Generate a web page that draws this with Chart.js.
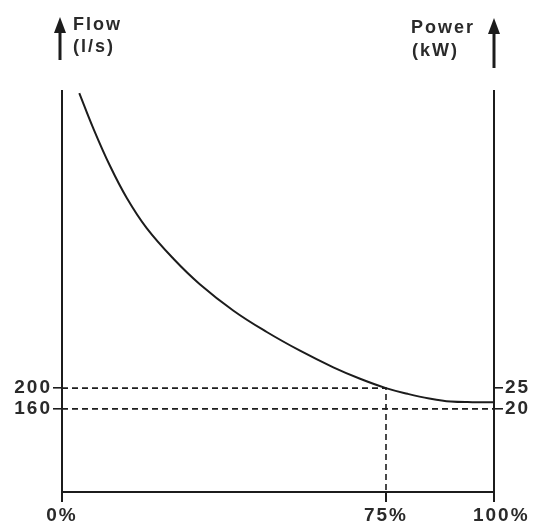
<!DOCTYPE html>
<html>
<head>
<meta charset="utf-8">
<script src="https://cdn.jsdelivr.net/npm/chart.js@4"></script>
<style>
  html, body { margin: 0; padding: 0; background: #fff; }
  #wrap { width: 537px; height: 523px; }
</style>
</head>
<body>
<div id="wrap"><canvas id="c" width="537" height="523"></canvas></div>
<script>
// Speed (% of full) and flow curve values (l/s)
const speedPct = [4.0, 7.2, 11.1, 15.0, 19.6, 25.8, 31.9, 39.7, 47.4, 55.1, 62.8, 69.0, 75.0, 80.0, 85.0, 90.0, 95.0, 100];
const flowCurve = [768, 701, 628, 566, 508, 449, 400, 349, 308, 272, 240, 218, 200, 189, 180, 174, 173, 173];

// Reference (operating point) values
const refSpeed = 75;
const refFlowHigh = 200;
const refFlowLow = 160;

// Axis tick labels
const xTicks = [0, 75, 100];
const flowTicks = [160, 200];
const powerTicks = [20, 25];

// Axis limits
const flowMax = 772;
const powerMax = flowMax / 8;

const FONT = "'Liberation Sans', Arial, sans-serif";
const INK = '#1c1c1c';
const TXT = '#2a2a2a';

const curve = speedPct.map((x, i) => ({ x, y: flowCurve[i] }));

const decorations = {
  id: 'decorations',
  beforeDraw(chart) {
    chart.ctx.letterSpacing = '2px';
  },
  afterDraw(chart) {
    const ctx = chart.ctx;
    const ca = chart.chartArea;
    ctx.save();
    ctx.fillStyle = INK;
    ctx.strokeStyle = INK;
    const arrow = (x, yTop, yBottom) => {
      ctx.lineWidth = 3;
      ctx.beginPath();
      ctx.moveTo(x, yBottom);
      ctx.lineTo(x, yTop + 10);
      ctx.stroke();
      ctx.beginPath();
      ctx.moveTo(x, yTop);
      ctx.lineTo(x - 6, yTop + 16);
      ctx.lineTo(x + 6, yTop + 16);
      ctx.closePath();
      ctx.fill();
    };
    arrow(ca.left - 2, 17, 60);
    arrow(ca.right, 18, 68);
    ctx.fillStyle = TXT;
    ctx.font = 'bold 18px ' + FONT;
    ctx.textBaseline = 'alphabetic';
    ctx.textAlign = 'left';
    ctx.fillText('Flow', 73, 30);
    ctx.fillText('(l/s)', 73, 52);
    ctx.fillText('Power', 411, 33);
    ctx.fillText('(kW)', 412, 56);
    ctx.restore();
  }
};

const tickFont = { family: FONT, size: 19, weight: 'bold' };

new Chart(document.getElementById('c'), {
  type: 'line',
  data: {
    datasets: [
      {
        label: 'curve',
        data: curve,
        borderColor: INK,
        borderWidth: 2,
        pointRadius: 0,
        tension: 0.4,
        yAxisID: 'y'
      },
      {
        label: 'ref high',
        data: [{ x: 0, y: refFlowHigh }, { x: refSpeed, y: refFlowHigh }, { x: refSpeed, y: 0 }],
        borderColor: INK,
        borderWidth: 1.6,
        borderDash: [6, 4],
        pointRadius: 0,
        tension: 0,
        yAxisID: 'y'
      },
      {
        label: 'ref low',
        data: [{ x: 0, y: refFlowLow }, { x: 100, y: refFlowLow }],
        borderColor: INK,
        borderWidth: 1.6,
        borderDash: [6, 4],
        pointRadius: 0,
        tension: 0,
        yAxisID: 'y'
      }
    ]
  },
  options: {
    responsive: false,
    animation: false,
    events: [],
    layout: { padding: { top: 91, left: 0, right: 0, bottom: 0 } },
    plugins: { legend: { display: false }, tooltip: { enabled: false } },
    scales: {
      x: {
        type: 'linear',
        min: 0, max: 100,
        afterBuildTicks: s => { s.ticks = xTicks.map(v => ({ value: v })); },
        afterFit: s => { s.height = 31; },
        ticks: {
          color: TXT,
          font: tickFont,
          padding: 2,
          maxRotation: 0,
          autoSkip: false,
          callback: v => (v === 100 ? '  ' : '') + v + '%'
        },
        grid: { drawOnChartArea: false, drawTicks: true, tickLength: 10, color: INK, lineWidth: 2 },
        border: { display: true, color: INK, width: 2 }
      },
      y: {
        type: 'linear',
        position: 'left',
        min: 0, max: flowMax,
        afterBuildTicks: s => { s.ticks = flowTicks.map(v => ({ value: v })); },
        afterFit: s => { s.width = 62; },
        ticks: {
          color: TXT,
          font: tickFont,
          padding: 1,
          autoSkip: false,
          callback: v => String(v)
        },
        grid: { drawOnChartArea: false, drawTicks: true, tickLength: 9, color: INK, lineWidth: 1.6 },
        border: { display: true, color: INK, width: 2 }
      },
      y2: {
        type: 'linear',
        position: 'right',
        min: 0, max: powerMax,
        afterBuildTicks: s => { s.ticks = powerTicks.map(v => ({ value: v })); },
        afterFit: s => { s.width = 43; },
        ticks: {
          color: TXT,
          font: tickFont,
          padding: 2,
          autoSkip: false,
          callback: v => String(v)
        },
        grid: { drawOnChartArea: false, drawTicks: true, tickLength: 9, color: INK, lineWidth: 1.6 },
        border: { display: true, color: INK, width: 2 }
      }
    }
  },
  plugins: [decorations]
});
</script>
</body>
</html>
